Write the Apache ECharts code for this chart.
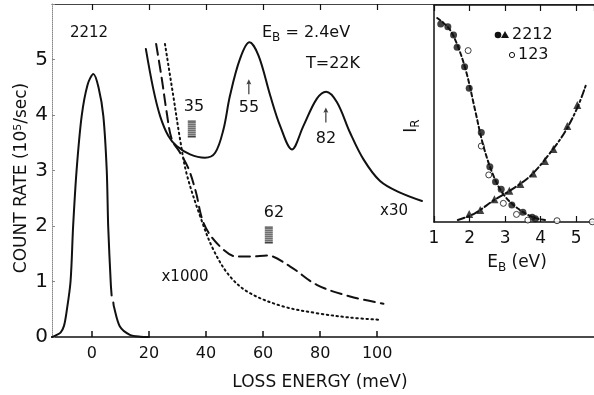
<!DOCTYPE html>
<html>
<head>
<meta charset="utf-8">
<script src="https://cdn.jsdelivr.net/npm/echarts@6/dist/echarts.min.js"></script>
<style>
  html, body { margin: 0; padding: 0; background: #fff; }
  #main { width: 594px; height: 395px; }
</style>
</head>
<body>
<div id="main"></div>
<script>
// main panel: count rate vs loss energy (10^5/sec)
var elasticPeak = [[-14, 0], [-13, 0.02], [-11, 0.08], [-9.8, 0.2], [-8.9, 0.45], [-7.5, 1.0], [-6.6, 1.99], [-5.4, 2.99],
    [-3.6, 3.98], [-1.5, 4.55], [0.5, 4.74], [2.3, 4.5], [4.0, 3.98], [5.2, 2.99], [5.7, 1.99], [6.6, 0.97], [6.9, 0.75],
    [7.2, '-'], [7.5, 0.62], [7.7, 0.55], [9.8, 0.19], [13.3, 0.04], [17, 0.005], [20, 0]];
var lossX30 = [[18.9, 5.19], [21.5, 4.47], [23.9, 3.98], [26.8, 3.62], [29.7, 3.44], [34.4, 3.29], [39.6, 3.23],
    [43.2, 3.32], [46.1, 3.74], [48.4, 4.35], [51.9, 5.01], [55.2, 5.31], [58.4, 5.07], [62.5, 4.35], [66.0, 3.8],
    [70.1, 3.38], [74.1, 3.8], [78.8, 4.29], [82.1, 4.42], [85.9, 4.23], [90.5, 3.68], [95.2, 3.2], [101, 2.81],
    [108, 2.6], [115.7, 2.45]];
var lossX1000 = [[22.5, 5.28], [24.5, 4.65], [26.2, 4.05], [28.0, 3.56], [30.9, 3.32], [33.8, 3.04], [36.4, 2.62],
    [39.1, 2.06], [43.8, 1.69], [50.8, 1.45], [56, 1.45], [61.3, 1.47], [69.5, 1.27], [78.8, 0.94], [90.5, 0.73],
    [102.2, 0.6]];
var background = [[25.6, 5.28], [28.5, 4.35], [30.9, 3.56], [33.2, 2.94], [37.9, 2.18], [42.6, 1.57], [48.4, 1.09],
    [55.4, 0.79], [67.1, 0.55], [78.8, 0.43], [90.5, 0.35], [101, 0.31]];
var hatchMarks = [[35, 3.75], [62, 1.84]];
var arrowMarks = [[55, 4.51], [82, 4.0]];
var lossTicks = [0, 20, 40, 60, 80, 100];

// inset: relative intensity vs E_B (eV)
var dots2212 = [[1.19, 0.912], [1.39, 0.9], [1.55, 0.862], [1.65, 0.805], [1.86, 0.716], [1.99, 0.616],
    [2.33, 0.412], [2.57, 0.255], [2.73, 0.186], [2.89, 0.151], [3.19, 0.078], [3.5, 0.045], [3.76, 0.022], [3.85, 0.015]];
var tri2212 = [[1.99, 0.037], [2.3, 0.055], [2.7, 0.105], [3.12, 0.144], [3.43, 0.175], [3.79, 0.224],
    [4.12, 0.281], [4.36, 0.336], [4.75, 0.442], [5.03, 0.539]];
var open123 = [[1.96, 0.79], [2.33, 0.35], [2.54, 0.217], [2.95, 0.086], [3.32, 0.035], [3.64, 0.009],
    [4.46, 0.006], [5.45, 0.001]];
var fallFit = [[1.09, 0.94], [1.43, 0.89], [1.67, 0.81], [1.91, 0.69], [2.15, 0.52], [2.39, 0.35], [2.68, 0.21],
    [2.97, 0.124], [3.35, 0.063], [3.78, 0.022], [4.12, 0.009]];
var riseFit = [[1.67, 0.009], [2.15, 0.04], [2.68, 0.1], [3.16, 0.147], [3.74, 0.217], [4.32, 0.33], [4.7, 0.42],
    [5.04, 0.53], [5.27, 0.63]];

var font = 'DejaVu Sans';
var ink = '#111';

var hatchPath = 'path://M0,0h10v1.3h-10z M0,2h10v1.3h-10z M0,4h10v1.3h-10z M0,6h10v1.3h-10z M0,8h10v1.3h-10z' +
    ' M0,10h10v1.3h-10z M0,12h10v1.3h-10z M0,14h10v1.3h-10z M0,16h10v1.3h-10z';
var arrowPath = 'path://M4,0 L8,7 L5,6 L5,20 L3,20 L3,6 L0,7 Z';

function curve(data, type, xi, yi, smooth) {
    return {
        type: 'line', data: data, smooth: smooth || 0.35, showSymbol: false, silent: true,
        xAxisIndex: xi, yAxisIndex: yi,
        lineStyle: { color: ink, width: 2, type: type, cap: 'round' }
    };
}

var chart = echarts.init(document.getElementById('main'));
var option = {
    animation: false,
    backgroundColor: '#fff',
    grid: [
        { left: 52, right: 0, top: 4, bottom: 58 },
        { left: 434, right: 0, top: 5, bottom: 173 }
    ],
    xAxis: [
        {
            gridIndex: 0, type: 'value', min: -14, max: 176, position: 'bottom',
            axisLine: { onZero: false, lineStyle: { color: ink, width: 1.5 } },
            axisTick: { inside: true, length: 6, customValues: lossTicks, lineStyle: { color: ink, width: 1.5 } },
            axisLabel: { customValues: lossTicks, margin: 9, fontFamily: font, fontSize: 16, color: ink },
            splitLine: { show: false }
        },
        {
            gridIndex: 0, type: 'value', min: -14, max: 176, position: 'top',
            axisLine: { onZero: false, lineStyle: { color: '#444', width: 1.2 } },
            axisTick: { inside: true, length: 6, customValues: lossTicks, lineStyle: { color: ink, width: 1.2 } },
            axisLabel: { show: false },
            splitLine: { show: false }
        },
        {
            gridIndex: 1, type: 'value', min: 1, max: 5.5, interval: 1, position: 'bottom',
            axisLine: { onZero: false, lineStyle: { color: ink, width: 1.5 } },
            axisTick: { inside: true, length: 6, lineStyle: { color: ink, width: 1.2 } },
            axisLabel: { margin: 8, fontFamily: font, fontSize: 17, color: ink, showMaxLabel: false },
            splitLine: { show: false }
        },
        {
            gridIndex: 1, type: 'value', min: 1, max: 5.5, interval: 1, position: 'top',
            axisLine: { onZero: false, lineStyle: { color: ink, width: 1.5 } },
            axisTick: { inside: true, length: 6, lineStyle: { color: ink, width: 1.2 } },
            axisLabel: { show: false },
            splitLine: { show: false }
        }
    ],
    yAxis: [
        {
            gridIndex: 0, type: 'value', min: 0, max: 6, interval: 1, position: 'left',
            axisLine: { show: true, onZero: false, lineStyle: { color: '#888', width: 1, type: 'dotted' } },
            axisTick: { show: true, inside: true, length: 3, lineStyle: { color: '#888' } },
            axisLabel: {
                margin: 4, fontFamily: font, fontSize: 20, color: ink,
                formatter: function (v) { return v === 6 ? '' : v; }
            },
            splitLine: { show: false }
        },
        {
            gridIndex: 1, type: 'value', min: 0, max: 1, position: 'left',
            axisLine: { show: true, onZero: false, lineStyle: { color: ink, width: 1.5 } },
            axisTick: { show: false },
            axisLabel: { show: false },
            splitLine: { show: false }
        }
    ],
    series: [
        curve(elasticPeak, 'solid', 0, 0, 0.3),
        curve(lossX30, 'solid', 0, 0),
        curve(lossX1000, [11, 6], 0, 0),
        curve(background, [1.5, 3.5], 0, 0),
        {
            type: 'scatter', data: hatchMarks, xAxisIndex: 0, yAxisIndex: 0, silent: true,
            symbol: hatchPath, symbolSize: [8, 17], itemStyle: { color: ink }
        },
        {
            type: 'scatter', data: arrowMarks, xAxisIndex: 0, yAxisIndex: 0, silent: true,
            symbol: arrowPath, symbolSize: [5, 15], itemStyle: { color: ink }
        },
        curve(fallFit, [4, 3], 2, 1),
        curve(riseFit, [7, 3, 2, 3], 2, 1),
        {
            type: 'scatter', data: dots2212, xAxisIndex: 2, yAxisIndex: 1, silent: true,
            symbol: 'circle', symbolSize: 7, itemStyle: { color: ink }
        },
        {
            type: 'scatter', data: tri2212, xAxisIndex: 2, yAxisIndex: 1, silent: true,
            symbol: 'triangle', symbolSize: 8, itemStyle: { color: ink }
        },
        {
            type: 'scatter', data: open123, xAxisIndex: 2, yAxisIndex: 1, silent: true,
            symbol: 'circle', symbolSize: 6, itemStyle: { color: '#fff', borderColor: ink, borderWidth: 1 }
        }
    ],
    graphic: [
        // axis titles
        {
            type: 'text', x: 22, y: 178, rotation: Math.PI / 2, z: 10,
            style: {
                text: 'COUNT RATE (10{s|5}/sec)', fill: ink, font: '17px ' + font,
                align: 'center', verticalAlign: 'middle',
                rich: { s: { fontSize: 11, verticalAlign: 'top', padding: [0, 0, 8, 0], fill: ink, fontFamily: font } }
            }
        },
        {
            type: 'text', x: 320, y: 383, z: 10,
            style: { text: 'LOSS ENERGY (meV)', fill: ink, font: '17px ' + font, align: 'center', verticalAlign: 'middle' }
        },
        // annotations
        { type: 'text', x: 89, y: 33, z: 10, style: { text: '2212', fill: ink, font: '15px ' + font, align: 'center', verticalAlign: 'middle' } },
        {
            type: 'text', x: 262, y: 33, z: 10,
            style: {
                text: 'E{b|B} = 2.4eV', fill: ink, font: '16px ' + font, verticalAlign: 'middle',
                rich: { b: { fontSize: 12, padding: [9, 0, 0, 0], fill: ink, fontFamily: font } }
            }
        },
        { type: 'text', x: 333, y: 64, z: 10, style: { text: 'T=22K', fill: ink, font: '16px ' + font, align: 'center', verticalAlign: 'middle' } },
        { type: 'text', x: 194, y: 107, z: 10, style: { text: '35', fill: ink, font: '16px ' + font, align: 'center', verticalAlign: 'middle' } },
        { type: 'text', x: 249, y: 108, z: 10, style: { text: '55', fill: ink, font: '16px ' + font, align: 'center', verticalAlign: 'middle' } },
        { type: 'text', x: 326, y: 139, z: 10, style: { text: '82', fill: ink, font: '16px ' + font, align: 'center', verticalAlign: 'middle' } },
        { type: 'text', x: 274, y: 213, z: 10, style: { text: '62', fill: ink, font: '16px ' + font, align: 'center', verticalAlign: 'middle' } },
        { type: 'text', x: 185, y: 277, z: 10, style: { text: 'x1000', fill: ink, font: '15px ' + font, align: 'center', verticalAlign: 'middle' } },
        { type: 'text', x: 394, y: 211, z: 10, style: { text: 'x30', fill: ink, font: '15px ' + font, align: 'center', verticalAlign: 'middle' } },
        // inset labels
        {
            type: 'text', x: 412, y: 126, rotation: Math.PI / 2, z: 10,
            style: {
                text: 'I{r|R}', fill: ink, font: '17px ' + font, align: 'center', verticalAlign: 'middle',
                rich: { r: { fontSize: 12, padding: [8, 0, 0, 0], fill: ink, fontFamily: font } }
            }
        },
        {
            type: 'text', x: 517, y: 263, z: 10,
            style: {
                text: 'E{b|B} (eV)', fill: ink, font: '17px ' + font, align: 'center', verticalAlign: 'middle',
                rich: { b: { fontSize: 12, padding: [9, 0, 0, 0], fill: ink, fontFamily: font } }
            }
        },
        // inset legend
        { type: 'circle', shape: { cx: 498, cy: 35, r: 3.3 }, z: 10, style: { fill: ink } },
        { type: 'polygon', shape: { points: [[505, 31], [509, 38], [501, 38]] }, z: 10, style: { fill: ink } },
        { type: 'text', x: 512, y: 35, z: 10, style: { text: '2212', fill: ink, font: '16px ' + font, verticalAlign: 'middle' } },
        { type: 'circle', shape: { cx: 512, cy: 55, r: 2.6 }, z: 10, style: { fill: '#fff', stroke: ink, lineWidth: 1 } },
        { type: 'text', x: 518, y: 55, z: 10, style: { text: '123', fill: ink, font: '16px ' + font, verticalAlign: 'middle' } }
    ]
};
chart.setOption(option);
</script>
</body>
</html>
